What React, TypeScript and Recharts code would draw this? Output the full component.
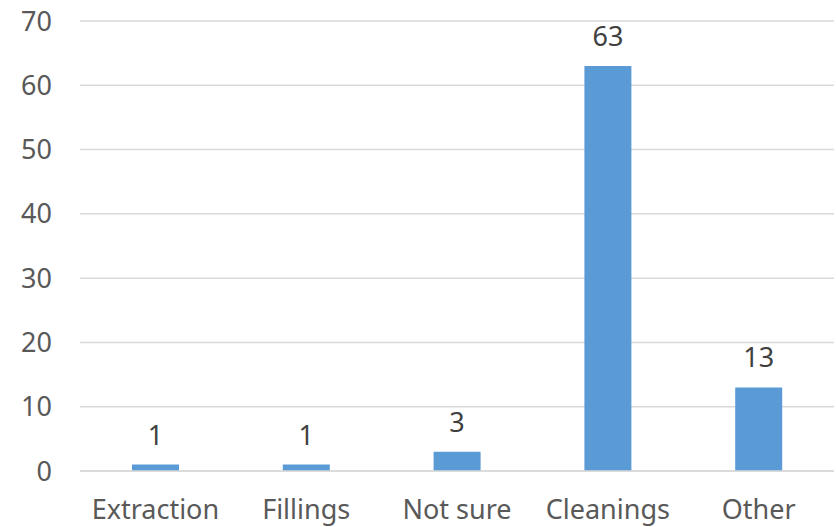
import { BarChart, Bar, XAxis, YAxis, CartesianGrid, LabelList } from "recharts"

document.body.style.margin = "0"

const categories = ["Extraction", "Fillings", "Not sure", "Cleanings", "Other"]
const counts = [1, 1, 3, 63, 13]
const yTicks = [0, 10, 20, 30, 40, 50, 60, 70]

const data = categories.map((name, i) => ({ name, count: counts[i] }))

const font = "'Noto Sans', sans-serif"

export default function App() {
  return (
    <BarChart
      width={836}
      height={527}
      data={data}
      margin={{ top: 21, right: 2, bottom: 0, left: 0 }}
      style={{ fontFamily: font }}
    >
      <CartesianGrid vertical={false} stroke="#d9d9d9" strokeWidth={1.5} />
      <XAxis
        dataKey="name"
        height={56}
        axisLine={{ stroke: "#d9d9d9", strokeWidth: 1.5 }}
        tickLine={false}
        tickSize={0}
        tickMargin={29}
        tick={{ fill: "#595959", fontSize: 27, fontFamily: font }}
        interval={0}
      />
      <YAxis
        width={80}
        domain={[0, 70]}
        ticks={yTicks}
        axisLine={false}
        tickLine={false}
        tickSize={0}
        tickMargin={28}
        tick={{ fill: "#595959", fontSize: 27, fontFamily: font }}
      />
      <Bar dataKey="count" fill="#5b9bd5" barSize={47} isAnimationActive={false}>
        <LabelList
          dataKey="count"
          position="top"
          offset={20}
          fill="#404040"
          fontSize={27}
          fontFamily={font}
        />
      </Bar>
    </BarChart>
  )
}
